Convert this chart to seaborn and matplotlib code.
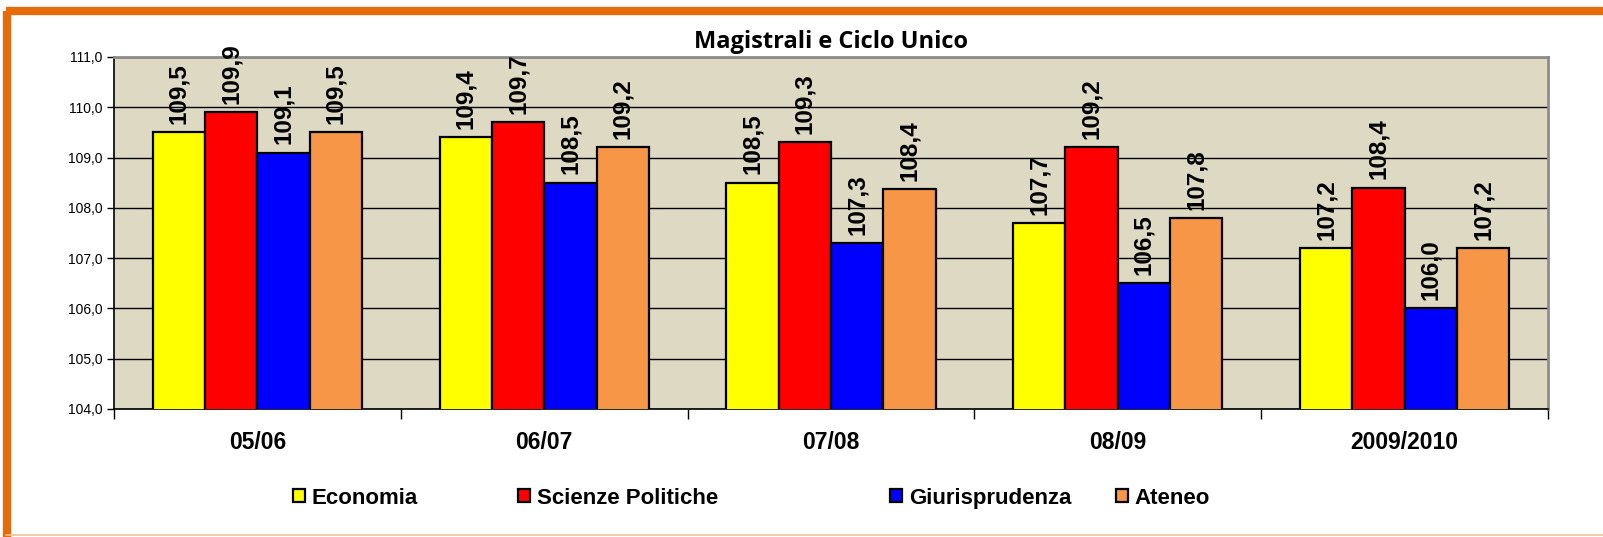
import pandas as pd
import matplotlib
matplotlib.use("Agg")
import matplotlib.pyplot as plt
import seaborn as sns
from matplotlib.lines import Line2D
from matplotlib.ticker import FuncFormatter, FixedLocator

# Data
years = ["05/06", "06/07", "07/08", "08/09", "2009/2010"]
economia = [109.5, 109.4, 108.5, 107.7, 107.2]
scienze_politiche = [109.9, 109.7, 109.3, 109.2, 108.4]
giurisprudenza = [109.1, 108.5, 107.3, 106.5, 106.0]
ateneo = [109.5, 109.2, 108.37, 107.8, 107.2]
series_names = ["Economia", "Scienze Politiche", "Giurisprudenza", "Ateneo"]
colors = ["#FFFF00", "#FF0000", "#0000FF", "#F79646"]

df = pd.DataFrame({
    "anno": years * 4,
    "serie": [s for s in series_names for _ in years],
    "voto": economia + scienze_politiche + giurisprudenza + ateneo,
})

sns.set_style("white")
plt.rcParams["font.family"] = ["Liberation Sans", "DejaVu Sans"]
plt.rcParams["text.color"] = "black"
plt.rcParams["xtick.color"] = "black"
plt.rcParams["ytick.color"] = "black"

fig = plt.figure(figsize=(16.03, 5.37), dpi=100)
ax = fig.add_axes([0.0711, 0.2384, 0.8946, 0.6555])
ax.set_facecolor("#DDD9C3")

sns.barplot(data=df, x="anno", y="voto", hue="serie", hue_order=series_names,
            palette=colors, width=0.73, gap=0, edgecolor="black", linewidth=1.6,
            saturation=1, ax=ax, zorder=3)

ax.set_ylim(104, 111)
ax.set_xlim(-0.5, len(years) - 0.5)
ax.yaxis.set_major_formatter(FuncFormatter(lambda v, p: f"{v:.1f}".replace(".", ",")))
ax.set_yticks(range(104, 112))
ax.grid(axis="y", color="black", linewidth=1.0, zorder=0)
ax.set_axisbelow(True)

# value labels
for cont in ax.containers:
    labs = [f"{b.get_height():.1f}".replace(".", ",") for b in cont]
    ax.bar_label(cont, labels=labs, rotation=90, padding=6, fontsize=17.5,
                 fontweight="bold", color="black", clip_on=False)

ax.set_xlabel("")
ax.set_ylabel("")
ax.tick_params(axis="y", which="major", direction="out", length=5, width=1,
               labelsize=10, pad=3, left=True)
ax.tick_params(axis="x", which="major", length=0, labelsize=16.5, pad=16)
for t in ax.get_xticklabels():
    t.set_fontweight("bold")
ax.xaxis.set_minor_locator(FixedLocator([i - 0.5 for i in range(len(years) + 1)]))
ax.tick_params(axis="x", which="minor", direction="out", length=7, width=1,
               bottom=True)

for side in ["left", "bottom"]:
    ax.spines[side].set_color("black")
    ax.spines[side].set_linewidth(1.2)
for side in ["top", "right"]:
    ax.spines[side].set_color("#8C8C8C")
    ax.spines[side].set_linewidth(2)

fig.text(0.5183, 0.921, "Magistrali e Ciclo Unico", ha="center", va="center",
         fontsize=17, fontweight="bold", family=["Open Sans", "DejaVu Sans"])

# legend entries placed where the original has them
handles, labels = ax.get_legend_handles_labels()
ax.get_legend().remove()
leg_x = [0.1828, 0.3231, 0.5552, 0.6962]
for h, lab, x in zip(handles, labels, leg_x):
    fig.legend([h], [lab], loc="center left", bbox_to_anchor=(x, 0.0726),
               frameon=False, prop={"size": 16, "weight": "bold"},
               handlelength=0.55, handleheight=0.55, handletextpad=0.3,
               borderpad=0, borderaxespad=0)

# orange frame around the chart
fig.add_artist(Line2D([0.004, 1.0], [0.9795, 0.9795], color="#E46C0A", lw=6,
                      transform=fig.transFigure, solid_capstyle="butt"))
fig.add_artist(Line2D([0.0041, 0.0041], [0.0, 0.9795], color="#E46C0A", lw=6,
                      transform=fig.transFigure, solid_capstyle="butt"))
fig.add_artist(Line2D([0.004, 1.0], [0.003, 0.003], color="#FAC090", lw=1.2,
                      transform=fig.transFigure))

fig.savefig("out.png", dpi=100, facecolor="white")
